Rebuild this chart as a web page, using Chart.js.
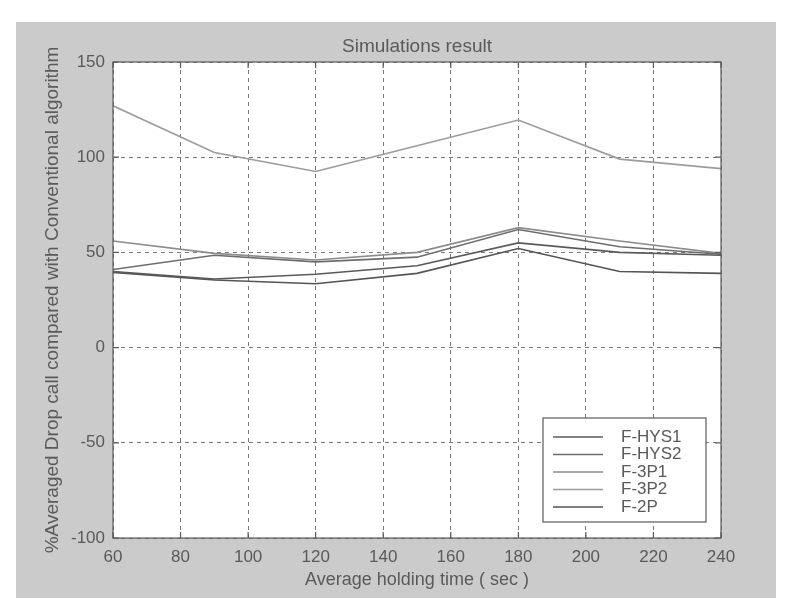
<!DOCTYPE html>
<html>
<head>
<meta charset="utf-8">
<title>Simulations result</title>
<script src="https://cdn.jsdelivr.net/npm/chart.js@4.4.1/dist/chart.umd.min.js"></script>
<style>
    html, body { margin: 0; padding: 0; background: #ffffff; }
    #wrap { position: relative; width: 786px; height: 598px; overflow: hidden; }
    #frame { position: absolute; left: 16px; top: 22px; width: 760px; height: 576px; background: #cbcbcb; }
    #applicationChart { position: absolute; left: 0; top: 0; }
</style>
</head>
<body>
<div id="wrap">
    <div id="frame"></div>
    <canvas id="applicationChart" width="786" height="598"></canvas>
</div>
<script>
// Average holding time (sec) sampled by the simulation
const holdTimes = [60, 90, 120, 150, 180, 210, 240];

// % averaged drop call vs. conventional algorithm, one array per scheme
const seriesNames = ['F-HYS1', 'F-HYS2', 'F-3P1', 'F-3P2', 'F-2P'];
const hys1 = [40, 36, 38.5, 43, 55, 50, 48.5];
const hys2 = [41, 48.5, 45, 47.5, 62, 53, 49];
const p31 = [56, 49.5, 46, 50, 63, 56, 49.5];
const p32 = [127, 102.5, 92.5, 106, 119.5, 99, 94];
const p2 = [39.5, 35.5, 33.5, 39, 52, 40, 39];
const seriesColors = ['#5a5a5a', '#6e6e6e', '#8c8c8c', '#9c9c9c', '#555555'];

const xTicks = [60, 80, 100, 120, 140, 160, 180, 200, 220, 240];
const yTicks = [-100, -50, 0, 50, 100, 150];

const textColor = '#5a5a5a';
const fontFamily = "'Liberation Sans', Arial, sans-serif";

const allSeries = [hys1, hys2, p31, p32, p2];
const datasets = allSeries.map((vals, i) => ({
    label: seriesNames[i],
    data: vals.map((v, j) => ({ x: holdTimes[j], y: v })),
    borderColor: seriesColors[i],
    borderWidth: 1.6,
    pointRadius: 0,
    tension: 0,
    fill: false
}));

// White axes background behind grid and lines
const areaPlugin = {
    id: 'whiteArea',
    beforeDraw(chart) {
        const { ctx, chartArea: a } = chart;
        ctx.save();
        ctx.fillStyle = '#ffffff';
        ctx.fillRect(a.left, a.top, a.right - a.left, a.bottom - a.top);
        ctx.restore();
    }
};

// Axes box, inward ticks and the boxed legend in the lower right
const boxPlugin = {
    id: 'matlabBox',
    afterDatasetsDraw(chart) {
        const { ctx, chartArea: a, scales } = chart;
        ctx.save();
        ctx.strokeStyle = '#5a5a5a';
        ctx.lineWidth = 1.2;
        ctx.setLineDash([]);
        ctx.strokeRect(a.left, a.top, a.right - a.left, a.bottom - a.top);

        ctx.beginPath();
        scales.x.ticks.forEach(t => {
            const px = scales.x.getPixelForValue(t.value);
            ctx.moveTo(px, a.bottom); ctx.lineTo(px, a.bottom - 6);
            ctx.moveTo(px, a.top); ctx.lineTo(px, a.top + 6);
        });
        scales.y.ticks.forEach(t => {
            const py = scales.y.getPixelForValue(t.value);
            ctx.moveTo(a.left, py); ctx.lineTo(a.left + 6, py);
            ctx.moveTo(a.right, py); ctx.lineTo(a.right - 6, py);
        });
        ctx.stroke();

        // legend
        const lx = 543, ly = 418, lw = 163, lh = 104;
        ctx.fillStyle = '#ffffff';
        ctx.fillRect(lx, ly, lw, lh);
        ctx.strokeStyle = '#5a5a5a';
        ctx.strokeRect(lx, ly, lw, lh);
        ctx.font = '17px ' + fontFamily;
        ctx.textBaseline = 'middle';
        chart.data.datasets.forEach((ds, i) => {
            const rowY = ly + 19 + i * 17.5;
            ctx.strokeStyle = ds.borderColor;
            ctx.lineWidth = 1.6;
            ctx.beginPath();
            ctx.moveTo(lx + 10, rowY);
            ctx.lineTo(lx + 60, rowY);
            ctx.stroke();
            ctx.fillStyle = textColor;
            ctx.fillText(ds.label, lx + 78, rowY);
        });
        ctx.restore();
    }
};

const titlePlugin = {
    id: 'topTitle',
    afterDraw(chart) {
        const { ctx, chartArea: a } = chart;
        ctx.save();
        ctx.font = '19px ' + fontFamily;
        ctx.fillStyle = textColor;
        ctx.textAlign = 'center';
        ctx.textBaseline = 'middle';
        ctx.fillText('Simulations result', (a.left + a.right) / 2, 47);
        ctx.restore();
    }
};

const chartCanvas = document.getElementById('applicationChart');
const ctx = chartCanvas.getContext('2d');
new Chart(ctx, {
    type: 'line',
    data: { datasets: datasets },
    options: {
        responsive: false,
        animation: false,
        layout: { padding: { top: 62, right: 65, bottom: 0, left: 0 } },
        plugins: {
            legend: { display: false },
            tooltip: { enabled: false },
            title: { display: false }
        },
        scales: {
            x: {
                type: 'linear',
                min: 60,
                max: 240,
                afterBuildTicks(scale) { scale.ticks = xTicks.map(v => ({ value: v })); },
                afterFit(scale) { scale.height = 60; },
                grid: { color: '#7a7a7a', lineWidth: 1, drawTicks: false },
                border: { display: false, dash: [4, 4] },
                ticks: {
                    color: textColor,
                    padding: 9,
                    maxRotation: 0,
                    font: { family: fontFamily, size: 17 }
                },
                title: {
                    display: true,
                    text: 'Average holding time ( sec )',
                    color: textColor,
                    font: { family: fontFamily, size: 18 },
                    padding: { top: 0, bottom: 7 }
                }
            },
            y: {
                type: 'linear',
                min: -100,
                max: 150,
                afterBuildTicks(scale) { scale.ticks = yTicks.map(v => ({ value: v })); },
                afterFit(scale) { scale.width = 113; },
                grid: { color: '#7a7a7a', lineWidth: 1, drawTicks: false },
                border: { display: false, dash: [4, 4] },
                ticks: {
                    color: textColor,
                    padding: 8,
                    font: { family: fontFamily, size: 17 }
                },
                title: {
                    display: true,
                    text: '%Averaged Drop call compared with Conventional algorithm',
                    color: textColor,
                    font: { family: fontFamily, size: 19 },
                    padding: { top: 41, bottom: 0 }
                }
            }
        }
    },
    plugins: [areaPlugin, boxPlugin, titlePlugin]
});
</script>
</body>
</html>
